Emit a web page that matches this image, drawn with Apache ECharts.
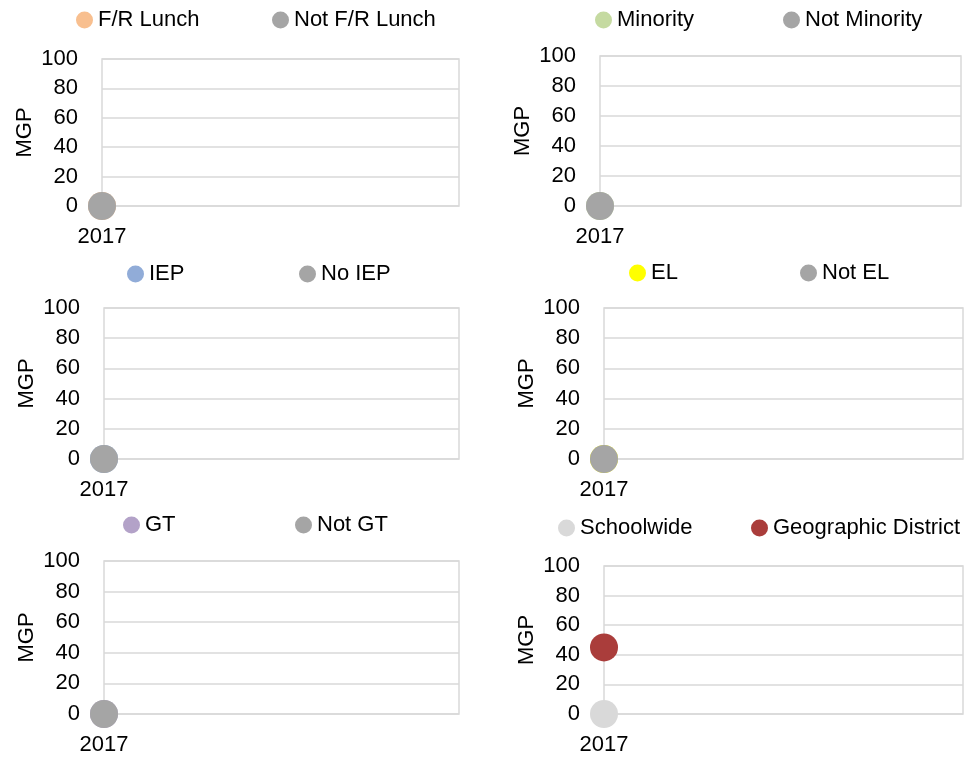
<!DOCTYPE html>
<html>
<head>
<meta charset="utf-8">
<title>MGP by student group</title>
<script src="https://cdn.jsdelivr.net/npm/echarts@6/dist/echarts.min.js"></script>
<style>
  html, body { margin: 0; padding: 0; background: #fff; }
  #chart { width: 974px; height: 759px; }
</style>
</head>
<body>
<div id="chart"></div>
<script>
// Years on the category axis (blank slot keeps 2017 at the left edge)
const years = ['2017', ''];
const yMin = 0, yMax = 100, yStep = 20;

// Median growth percentile per group
const frLunch = [0];
const notFrLunch = [0];
const minority = [0];
const notMinority = [0];
const iep = [0];
const noIep = [0];
const el = [0];
const notEl = [0];
const gt = [0];
const notGt = [0];
const schoolwide = [0];
const geoDistrict = [45];

const FONT = '"Liberation Sans", Arial, sans-serif';
const FS = 22;

const panels = [
  { names: ['F/R Lunch', 'Not F/R Lunch'], values: [frLunch, notFrLunch], colors: ['#f8bf8f', '#a5a5a5'] },
  { names: ['Minority', 'Not Minority'], values: [minority, notMinority], colors: ['#c5daa1', '#a5a5a5'] },
  { names: ['IEP', 'No IEP'], values: [iep, noIep], colors: ['#91acd8', '#a5a5a5'] },
  { names: ['EL', 'Not EL'], values: [el, notEl], colors: ['#ffff00', '#a5a5a5'] },
  { names: ['GT', 'Not GT'], values: [gt, notGt], colors: ['#b3a2c8', '#a5a5a5'] },
  { names: ['Schoolwide', 'Geographic District'], values: [schoolwide, geoDistrict], colors: ['#d9d9d9', '#aa3d3b'] }
];

// Plot-area boxes and legend placement for each panel
const layout = [
  { grid: { left: 102, top: 59, width: 357, height: 147 }, legendX: [76, 272], legendY: 19 },
  { grid: { left: 600, top: 56, width: 361, height: 150 }, legendX: [595, 783], legendY: 19 },
  { grid: { left: 104, top: 308, width: 355, height: 151 }, legendX: [127, 299], legendY: 273 },
  { grid: { left: 604, top: 308, width: 359, height: 151 }, legendX: [629, 800], legendY: 272 },
  { grid: { left: 104, top: 561, width: 355, height: 153 }, legendX: [123, 295], legendY: 524 },
  { grid: { left: 604, top: 566, width: 359, height: 148 }, legendX: [558, 751], legendY: 527 }
];

const grid = [], xAxis = [], yAxis = [], series = [], legend = [];
const LEGEND_HALF = 10;

panels.forEach((p, i) => {
  const L = layout[i];
  grid.push(Object.assign({
    show: true, borderColor: '#d9d9d9', borderWidth: 1.5, backgroundColor: 'transparent',
    containLabel: false
  }, L.grid));
  xAxis.push({
    type: 'category', gridIndex: i, data: years, boundaryGap: false,
    axisLine: { show: false }, axisTick: { show: false },
    splitLine: { show: false },
    axisLabel: { color: '#000', fontFamily: FONT, fontSize: FS, margin: 20, interval: 0 }
  });
  yAxis.push({
    type: 'value', gridIndex: i, min: yMin, max: yMax, interval: yStep,
    name: 'MGP', nameLocation: 'middle', nameGap: 66,
    nameTextStyle: { color: '#000', fontFamily: FONT, fontSize: FS },
    axisLine: { show: false }, axisTick: { show: false },
    axisLabel: { color: '#000', fontFamily: FONT, fontSize: FS, margin: 24 },
    splitLine: { lineStyle: { color: '#d9d9d9', width: 1.5 } }
  });
  p.names.forEach((name, k) => {
    series.push({
      type: 'scatter', name: name, xAxisIndex: i, yAxisIndex: i,
      data: p.values[k], symbol: 'circle', symbolSize: 28,
      itemStyle: { color: p.colors[k], opacity: 1 },
      emphasis: { disabled: true }
    });
    legend.push({
      data: [name], left: L.legendX[k], top: L.legendY - LEGEND_HALF,
      padding: 0, itemWidth: 17, itemHeight: 17, icon: 'circle',
      selectedMode: false,
      textStyle: { color: '#000', fontFamily: FONT, fontSize: FS, padding: 0 }
    });
  });
});

const chart = echarts.init(document.getElementById('chart'), null, { renderer: 'canvas' });
chart.setOption({
  animation: false,
  backgroundColor: '#fff',
  grid, xAxis, yAxis, series, legend
});
</script>
</body>
</html>
